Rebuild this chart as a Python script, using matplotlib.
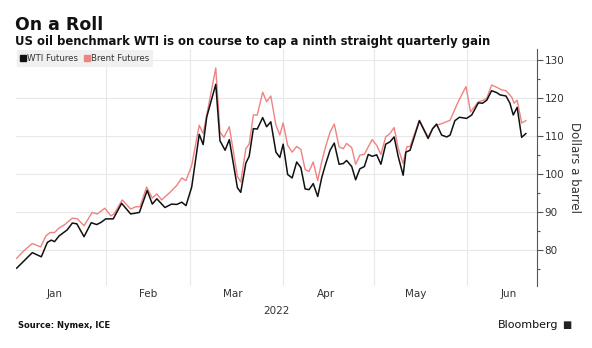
import datetime as dt

import numpy as np
import matplotlib
matplotlib.use("Agg")
import matplotlib.pyplot as plt
import matplotlib.dates as mdates
from matplotlib.ticker import MultipleLocator

# days since 2022-01-01 and $/bbl
wti_day = [1.3, 6.5, 9.5, 11.5, 12.8, 13.9, 15.4, 18.1, 19.8, 21.3, 23.7, 26.1, 27.9, 29.4,
           30.9, 33.4, 36.2, 39.2, 42.1, 44.7, 46.4, 47.9, 50.6, 52.8, 54.5, 56.2, 57.6,
           59.5, 62.0, 63.3, 64.5, 67.5, 68.9, 70.6, 72.0, 74.7, 75.8, 77.5, 78.6, 80.0,
           81.3, 83.1, 84.4, 85.8, 87.5, 88.8, 89.9, 91.4, 92.9, 94.4, 95.8, 97.2, 98.5,
           99.9, 101.4, 102.7, 104.0, 105.5, 106.9, 108.5, 109.9, 111.0, 112.7, 114.0,
           115.4, 116.9, 118.2, 119.5, 121.0, 122.4, 124.0, 125.4, 126.8, 128.2, 129.8,
           130.7, 132.1, 135.2, 138.1, 139.6, 140.9, 142.6, 144.3, 145.4, 147.0, 148.5,
           150.9, 152.6, 154.8, 156.2, 157.6, 159.2, 160.9, 162.0, 164.0, 165.3, 166.4,
           167.7, 169.2, 170.6]
wti = [75.2, 79.3, 78.2, 82.0, 82.6, 82.2, 83.7, 85.3, 87.1, 86.9, 83.5, 87.2, 86.7, 87.3,
       88.2, 88.2, 92.3, 89.5, 89.9, 95.7, 92.1, 93.5, 91.2, 92.1, 92.0, 92.6, 91.7,
       96.6, 110.5, 107.8, 115.1, 123.7, 108.8, 106.3, 109.1, 96.4, 95.2, 102.9, 104.7,
       112.0, 111.9, 114.9, 112.5, 113.8, 105.8, 104.4, 107.9, 99.9, 99.0, 103.2, 101.7,
       96.1, 95.9, 97.5, 94.1, 99.0, 102.6, 106.3, 108.2, 102.6, 102.8, 103.6, 102.0,
       98.5, 101.4, 102.0, 105.2, 104.7, 105.1, 102.6, 107.9, 108.5, 109.8, 104.5, 99.7,
       105.8, 106.3, 114.1, 109.4, 112.0, 113.2, 110.3, 109.8, 110.3, 114.1, 115.0,
       114.7, 115.6, 118.8, 118.7, 119.5, 122.0, 121.5, 120.9, 120.6, 118.7, 115.6,
       117.6, 109.7, 110.7]

brent_day = [1.3, 3.7, 6.5, 9.3, 11.0, 12.4, 13.9, 15.4, 17.3, 19.8, 21.5, 23.7, 26.4, 28.1,
             30.6, 32.6, 33.7, 36.4, 39.2, 40.9, 42.3, 44.5, 46.4, 47.9, 49.5, 52.3, 54.5,
             56.2, 57.6, 59.5, 62.0, 63.3, 64.5, 67.5, 68.9, 70.2, 72.0, 74.7, 75.8, 77.5,
             78.6, 80.0, 81.3, 83.1, 84.4, 85.8, 87.5, 88.8, 89.9, 91.4, 92.9, 94.4, 95.8,
             97.2, 98.5, 99.9, 101.4, 102.7, 104.0, 105.5, 106.9, 108.5, 109.9, 111.0,
             112.7, 114.0, 115.4, 116.9, 118.2, 119.5, 121.0, 122.4, 124.0, 125.4, 126.8,
             128.2, 129.8, 131.0, 132.1, 135.2, 138.1, 139.6, 140.9, 142.9, 145.4, 148.1,
             150.7, 152.2, 154.8, 156.2, 157.6, 159.2, 160.9, 162.6, 164.0, 165.9, 166.7,
             167.7, 169.2, 170.6]
brent = [77.8, 79.8, 81.7, 80.8, 83.7, 84.6, 84.6, 85.8, 86.7, 88.4, 88.2, 86.4, 89.9, 89.5,
         91.0, 89.0, 89.5, 93.2, 90.8, 91.4, 91.4, 96.6, 93.7, 94.8, 93.2, 95.2, 97.0,
         99.0, 98.3, 102.3, 112.9, 110.7, 115.6, 128.0, 111.1, 109.7, 112.5, 99.4, 97.9,
         106.7, 107.9, 115.6, 115.6, 121.6, 119.1, 120.6, 112.9, 110.3, 113.5, 107.6,
         105.8, 107.3, 106.5, 101.2, 100.7, 103.2, 98.3, 103.2, 107.2, 111.1, 113.2,
         107.2, 106.7, 108.1, 107.0, 102.6, 105.0, 105.2, 107.2, 109.1, 107.6, 105.2,
         109.8, 110.7, 112.3, 106.7, 102.8, 107.2, 107.3, 114.2, 109.8, 112.0, 112.9,
         113.4, 114.2, 119.1, 123.1, 116.4, 119.1, 119.4, 120.0, 123.5, 122.9, 122.2,
         122.0, 120.3, 118.7, 119.5, 113.5, 114.1]

month_labels = ["Jan", "Feb", "Mar", "Apr", "May", "Jun"]

BASE = mdates.date2num(dt.datetime(2022, 1, 1))
GRID = "#e8e8e8"
RED = "#f08282"

fig = plt.figure(figsize=(5.92, 3.48), dpi=100)
ax = fig.add_axes([16/592, 1 - 286/348, (537-16)/592, (286-49)/348])

ax.plot(BASE + np.array(brent_day), brent, color=RED, lw=1.0, zorder=3)
ax.plot(BASE + np.array(wti_day), wti, color="#111111", lw=1.1, zorder=4)

ax.set_xlim(BASE + 1.08, BASE + 174.3)
ax.set_ylim(70.5, 133)

# y axis on the right
ax.yaxis.tick_right()
ax.yaxis.set_label_position("right")
ax.yaxis.set_major_locator(MultipleLocator(10))
ax.yaxis.set_minor_locator(MultipleLocator(5))
ax.tick_params(axis="y", which="major", length=4, width=0.8, color="#555555",
               labelsize=7.5, labelcolor="#333333", pad=1.5)
ax.tick_params(axis="y", which="minor", length=2.5, width=0.8, color="#555555")
ax.set_ylabel("Dollars a barrel", rotation=-90, labelpad=12, fontsize=8.5, color="#333333")

# months: labels mid-month, grid at month starts
ax.xaxis.set_major_locator(mdates.MonthLocator(bymonthday=15))
ax.xaxis.set_minor_locator(mdates.MonthLocator(bymonthday=1))
ax.tick_params(axis="x", which="both", length=0, labelsize=7.5, labelcolor="#333333", pad=2)
ax.set_xticks(ax.get_xticks())
ax.set_xticklabels(month_labels)

ax.grid(axis="y", which="major", color=GRID, lw=0.8, zorder=0)
ax.grid(axis="x", which="minor", color=GRID, lw=0.8, zorder=0)

for s in ["top", "left", "bottom"]:
    ax.spines[s].set_visible(False)
ax.spines["right"].set_color("#555555")
ax.spines["right"].set_linewidth(0.8)

ax.text(0.5, -0.085, "2022", transform=ax.transAxes, ha="center", va="top",
        fontsize=7.5, color="#333333")

# legend
h1, = ax.plot([], [], ls="", marker="s", ms=4, color="#111111", label="WTI Futures")
h2, = ax.plot([], [], ls="", marker="s", ms=4, color=RED, label="Brent Futures")
leg = ax.legend(handles=[h1, h2], loc="upper left", ncol=2, frameon=True, fontsize=6.2,
                handlelength=0.5, handletextpad=0.2, columnspacing=0.8,
                borderpad=0.45, borderaxespad=0.1, fancybox=False)
leg.get_frame().set_facecolor("#f0f0f0")
leg.get_frame().set_edgecolor("none")
leg.get_frame().set_alpha(1)
for t in leg.get_texts():
    t.set_color("#333333")

fig.text(15/592, 1 - 30/348, "On a Roll", fontsize=12.5, fontweight="bold",
         color="#111111", va="baseline")
fig.text(15/592, 1 - 45/348, "US oil benchmark WTI is on course to cap a ninth straight quarterly gain",
         fontsize=8.4, fontweight="bold", color="#111111", va="baseline")
fig.text(18/592, 1 - 328/348, "Source: Nymex, ICE", fontsize=6, fontweight="bold",
         color="#111111", va="baseline")
fig.text(558/592, 1 - 328/348, "Bloomberg", fontsize=8, color="#111111",
         ha="right", va="baseline")
fig.text(562/592, 1 - 328/348, "\u25A0", fontsize=7, color="#222222", va="baseline")

fig.savefig("out.png", dpi=100)
